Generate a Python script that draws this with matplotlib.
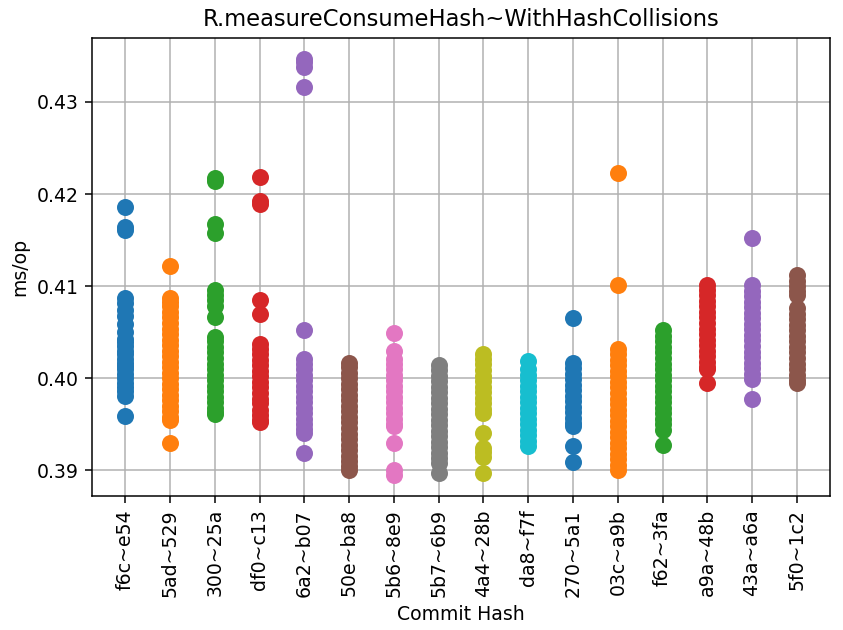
import matplotlib
matplotlib.use("Agg")
import matplotlib.pyplot as plt

commits = ['f6c~e54', '5ad~529', '300~25a', 'df0~c13', '6a2~b07', '50e~ba8',
           '5b6~8e9', '5b7~6b9', '4a4~28b', 'da8~f7f', '270~5a1', '03c~a9b',
           'f62~3fa', 'a9a~48b', '43a~a6a', '5f0~1c2']

# ms/op samples per commit
f6c_e54 = [0.4186, 0.4164, 0.4161, 0.4087, 0.4082, 0.4074, 0.4068, 0.4059, 0.4050,
           0.4043, 0.4039, 0.4035, 0.4030, 0.4026, 0.4021, 0.4017, 0.4013, 0.4010,
           0.4005, 0.4000, 0.3995, 0.3990, 0.3986, 0.3981, 0.3959]
ad5_529 = [0.4122, 0.4087, 0.4083, 0.4078, 0.4072, 0.4066, 0.4060, 0.4054, 0.4048,
           0.4042, 0.4036, 0.4030, 0.4024, 0.4018, 0.4012, 0.4006, 0.4000, 0.3994,
           0.3988, 0.3982, 0.3976, 0.3970, 0.3964, 0.3958, 0.3955, 0.3930]
c300_25a = [0.4217, 0.4214, 0.4167, 0.4158, 0.4096, 0.4090, 0.4085, 0.4078, 0.4066,
            0.4045, 0.4040, 0.4034, 0.4028, 0.4022, 0.4016, 0.4010, 0.4004, 0.3998,
            0.3992, 0.3986, 0.3980, 0.3974, 0.3968, 0.3963, 0.3961]
df0_c13 = [0.4218, 0.4192, 0.4189, 0.4085, 0.4070, 0.4037, 0.4032, 0.4026, 0.4020,
           0.4014, 0.4008, 0.4002, 0.3996, 0.3990, 0.3984, 0.3978, 0.3973, 0.3966,
           0.3960, 0.3955, 0.3953]
a62_b07 = [0.4347, 0.4343, 0.4338, 0.4316, 0.4052, 0.4021, 0.4016, 0.4010, 0.4004,
           0.3998, 0.3992, 0.3986, 0.3980, 0.3974, 0.3968, 0.3962, 0.3956, 0.3950,
           0.3945, 0.3941, 0.3919]
e50_ba8 = [0.4017, 0.4012, 0.4006, 0.4000, 0.3994, 0.3988, 0.3982, 0.3976, 0.3970,
           0.3964, 0.3958, 0.3952, 0.3946, 0.3940, 0.3934, 0.3928, 0.3922, 0.3916,
           0.3910, 0.3905, 0.3900]
b56_8e9 = [0.4049, 0.4030, 0.4021, 0.4016, 0.4010, 0.4004, 0.3998, 0.3992, 0.3986,
           0.3980, 0.3974, 0.3968, 0.3962, 0.3956, 0.3950, 0.3948, 0.3930, 0.3900,
           0.3895]
b57_6b9 = [0.4014, 0.4009, 0.4003, 0.3997, 0.3991, 0.3985, 0.3979, 0.3973, 0.3967,
           0.3961, 0.3955, 0.3949, 0.3943, 0.3937, 0.3931, 0.3925, 0.3919, 0.3913,
           0.3908, 0.3897]
a44_28b = [0.4026, 0.4021, 0.4015, 0.4009, 0.4003, 0.3997, 0.3991, 0.3985, 0.3979,
           0.3973, 0.3967, 0.3962, 0.3941, 0.3924, 0.3920, 0.3915, 0.3897]
da8_f7f = [0.4019, 0.4010, 0.4004, 0.3998, 0.3992, 0.3986, 0.3980, 0.3974, 0.3968,
           0.3962, 0.3956, 0.3950, 0.3944, 0.3938, 0.3932, 0.3926]
c270_5a1 = [0.4065, 0.4017, 0.4011, 0.4005, 0.3999, 0.3993, 0.3987, 0.3981, 0.3975,
            0.3969, 0.3963, 0.3957, 0.3951, 0.3948, 0.3926, 0.3909]
c03c_a9b = [0.4223, 0.4101, 0.4032, 0.4026, 0.4020, 0.4014, 0.4008, 0.4002, 0.3996,
            0.3990, 0.3984, 0.3978, 0.3972, 0.3966, 0.3960, 0.3954, 0.3948, 0.3942,
            0.3936, 0.3930, 0.3924, 0.3918, 0.3912, 0.3906, 0.3900]
f62_3fa = [0.4052, 0.4046, 0.4040, 0.4034, 0.4028, 0.4022, 0.4016, 0.4010, 0.4004,
           0.3998, 0.3992, 0.3986, 0.3980, 0.3974, 0.3968, 0.3962, 0.3956, 0.3950,
           0.3944, 0.3928]
a9a_48b = [0.4101, 0.4096, 0.4090, 0.4084, 0.4078, 0.4072, 0.4066, 0.4060, 0.4054,
           0.4048, 0.4042, 0.4036, 0.4030, 0.4024, 0.4018, 0.4012, 0.4010, 0.3995]
a43_a6a = [0.4152, 0.4101, 0.4095, 0.4089, 0.4083, 0.4077, 0.4071, 0.4065, 0.4059,
           0.4053, 0.4047, 0.4041, 0.4035, 0.4029, 0.4023, 0.4017, 0.4011, 0.4005,
           0.3999, 0.3978]
f50_1c2 = [0.4112, 0.4106, 0.4100, 0.4095, 0.4090, 0.4076, 0.4070, 0.4064, 0.4058,
           0.4052, 0.4046, 0.4040, 0.4034, 0.4028, 0.4022, 0.4016, 0.4010, 0.4004,
           0.3998, 0.3995]

samples = [f6c_e54, ad5_529, c300_25a, df0_c13, a62_b07, e50_ba8, b56_8e9, b57_6b9,
           a44_28b, da8_f7f, c270_5a1, c03c_a9b, f62_3fa, a9a_48b, a43_a6a, f50_1c2]

fig, ax = plt.subplots(figsize=(843 / 136, 630 / 136), dpi=136)
for i, vals in enumerate(samples):
    ax.plot([i] * len(vals), vals, 'o', markersize=8)

ax.set_xticks(range(len(commits)))
ax.set_xticklabels(commits, rotation='vertical')
ax.set_title("R.measureConsumeHash~WithHashCollisions")
ax.set_xlabel("Commit Hash")
ax.set_ylabel("ms/op")
ax.grid(True)
fig.subplots_adjust(left=0.109, right=0.985, top=0.94, bottom=0.213)
fig.savefig('out.png')
